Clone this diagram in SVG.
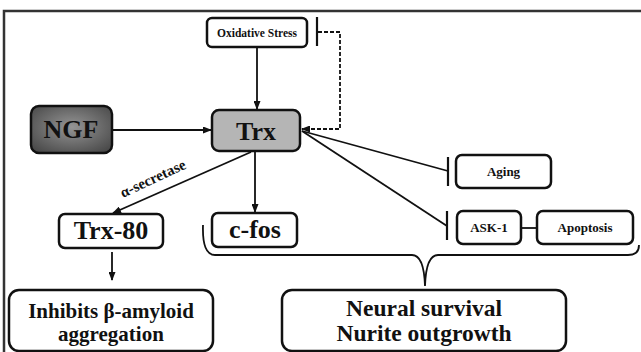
<svg xmlns="http://www.w3.org/2000/svg" width="641" height="352" viewBox="0 0 641 352">
<style>
.box{fill:#fff;stroke:#111;stroke-width:2.5}
.t{font-family:"Liberation Serif",serif;font-weight:bold;fill:#111;text-anchor:middle}
.ln{fill:none;stroke:#111;stroke-width:1.8}
.dash{fill:none;stroke:#111;stroke-width:1.8;stroke-dasharray:4 2}
.bar{stroke:#111;stroke-width:2.2}
</style>
<defs>
<marker id="ah" markerUnits="userSpaceOnUse" markerWidth="9" markerHeight="7" refX="8" refY="3.5" orient="auto">
<path d="M0,0 L9,3.5 L0,7 z" fill="#111"/>
</marker>
<radialGradient id="ngf" cx="50%" cy="45%" r="65%">
<stop offset="0" stop-color="#959595"/>
<stop offset="1" stop-color="#4a4a4a"/>
</radialGradient>
</defs>
<rect width="641" height="352" fill="#fff"/>
<path d="M4,352 L4,11 L641,11" fill="none" stroke="#333" stroke-width="2.5"/>

<g id="connectors">
<line class="ln" x1="257" y1="47" x2="257" y2="109" marker-end="url(#ah)"/>
<line class="ln" x1="112" y1="130" x2="211" y2="130" marker-end="url(#ah)"/>
<line class="ln" x1="255" y1="151" x2="255" y2="212" marker-end="url(#ah)"/>
<line class="ln" x1="251" y1="152" x2="113" y2="213" marker-end="url(#ah)"/>
<line class="ln" x1="112" y1="252" x2="112" y2="280" marker-end="url(#ah)"/>
<path class="dash" d="M318,32 L340,32 L340,129 L302,129" marker-end="url(#ah)"/>
<line class="bar" x1="317" y1="17" x2="317" y2="46"/>
<line class="ln" x1="302" y1="131" x2="448" y2="171"/>
<line class="bar" x1="448" y1="157" x2="448" y2="186"/>
<line class="ln" x1="302" y1="131" x2="447" y2="226"/>
<line class="bar" x1="447" y1="211" x2="447" y2="240"/>
<line class="ln" x1="521" y1="228" x2="537" y2="228"/>
<path class="ln" d="M203,225 Q202,255 215,255 L412,255 Q424,255 425,286 Q426,255 438,255 L628,255 Q639,255 639,245"/>
<text class="t" font-size="15" transform="translate(155,183) rotate(-25)">α-secretase</text>
</g>

<g id="oxidative">
<rect class="box" x="207" y="18" width="100" height="29" rx="5"/>
<text class="t" x="257" y="37" font-size="11.5">Oxidative Stress</text>
</g>
<g id="ngf-node">
<rect x="31" y="106" width="81" height="47" rx="8" fill="url(#ngf)" stroke="#111" stroke-width="2.5"/>
<text class="t" x="71" y="138" font-size="26">NGF</text>
</g>
<g id="trx">
<rect x="212" y="110" width="88" height="41" rx="7" fill="#b5b5b5" stroke="#111" stroke-width="2.5"/>
<text class="t" x="256" y="140" font-size="26">Trx</text>
</g>
<g id="trx80">
<rect class="box" x="59" y="214" width="104" height="34" rx="6"/>
<text class="t" x="111" y="239" font-size="26">Trx-80</text>
</g>
<g id="cfos">
<rect class="box" x="212" y="213" width="85" height="34" rx="6"/>
<text class="t" x="255" y="238" font-size="26">c-fos</text>
</g>
<g id="aging">
<rect class="box" x="456" y="155" width="95" height="33" rx="6"/>
<text class="t" x="503.5" y="176" font-size="13">Aging</text>
</g>
<g id="ask1">
<rect class="box" x="457" y="211" width="64" height="33" rx="6"/>
<text class="t" x="489" y="232" font-size="13">ASK-1</text>
</g>
<g id="apoptosis">
<rect class="box" x="537" y="211" width="96" height="33" rx="6"/>
<text class="t" x="585" y="232" font-size="13">Apoptosis</text>
</g>
<g id="inhibits">
<rect class="box" x="9" y="290" width="204" height="61" rx="10"/>
<text class="t" x="111" y="318" font-size="21">Inhibits β-amyloid</text>
<text class="t" x="111" y="341" font-size="21">aggregation</text>
</g>
<g id="neural">
<rect class="box" x="282" y="290" width="284" height="61" rx="10"/>
<text class="t" x="424" y="316" font-size="23.5">Neural survival</text>
<text class="t" x="424" y="341" font-size="23.5">Nurite outgrowth</text>
</g>
</svg>
